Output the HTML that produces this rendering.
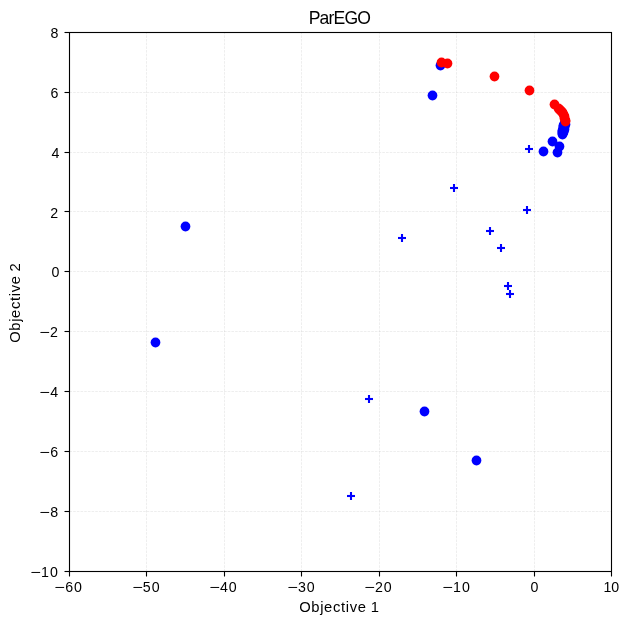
<!DOCTYPE html>
<html lang="en">
<head>
<meta charset="utf-8">
<title>ParEGO</title>
<style>
html,body{margin:0;padding:0;background:#fff;}
body{width:629px;height:624px;overflow:hidden;}
svg{display:block;will-change:transform;}
text{font-family:"Liberation Sans",sans-serif;fill:#000;}
.tick{font-size:14.2px;}
.lab{font-size:14.77px;}
.ttl{font-size:17.59px;}
.g{stroke:#b0b0b0;stroke-opacity:0.3;stroke-width:0.73;stroke-dasharray:2.57 1.11;fill:none;}
.t{stroke:#000;stroke-width:1.11;fill:none;}
.b{fill:#0000ff;}
.r{fill:#ff0000;}
</style>
</head>
<body>
<svg width="629" height="624" viewBox="0 0 629 624">
<rect x="0" y="0" width="629" height="624" fill="#ffffff"/>
<!-- grid -->
<g class="g">
<path d="M69.5 571.5 V32.5"/>
<path d="M146.5 571.5 V32.5"/>
<path d="M224.5 571.5 V32.5"/>
<path d="M301.5 571.5 V32.5"/>
<path d="M379.5 571.5 V32.5"/>
<path d="M456.5 571.5 V32.5"/>
<path d="M534.5 571.5 V32.5"/>
<path d="M611.5 571.5 V32.5"/>
<path d="M69.5 32.5 H611.5"/>
<path d="M69.5 92.5 H611.5"/>
<path d="M69.5 152.5 H611.5"/>
<path d="M69.5 211.5 H611.5"/>
<path d="M69.5 271.5 H611.5"/>
<path d="M69.5 331.5 H611.5"/>
<path d="M69.5 391.5 H611.5"/>
<path d="M69.5 451.5 H611.5"/>
<path d="M69.5 511.5 H611.5"/>
<path d="M69.5 571.5 H611.5"/>
</g>
<!-- plus markers -->
<g class="b">
<rect x="525" y="147.958" width="8" height="2.084"/><rect x="527.958" y="145" width="2.084" height="8"/>
<rect x="450" y="186.958" width="8" height="2.084"/><rect x="452.958" y="184" width="2.084" height="8"/>
<rect x="523" y="208.958" width="8" height="2.084"/><rect x="525.958" y="206" width="2.084" height="8"/>
<rect x="398" y="236.958" width="8" height="2.084"/><rect x="400.958" y="234" width="2.084" height="8"/>
<rect x="486" y="229.958" width="8" height="2.084"/><rect x="488.958" y="227" width="2.084" height="8"/>
<rect x="497" y="246.958" width="8" height="2.084"/><rect x="499.958" y="244" width="2.084" height="8"/>
<rect x="504" y="284.958" width="8" height="2.084"/><rect x="506.958" y="282" width="2.084" height="8"/>
<rect x="506" y="292.958" width="8" height="2.084"/><rect x="508.958" y="290" width="2.084" height="8"/>
<rect x="365" y="397.958" width="8" height="2.084"/><rect x="367.958" y="395" width="2.084" height="8"/>
<rect x="347" y="494.958" width="8" height="2.084"/><rect x="349.958" y="492" width="2.084" height="8"/>
</g>
<!-- blue points -->
<g class="b">
<circle cx="185.5" cy="226.5" r="4.88"/>
<circle cx="155.5" cy="342.5" r="4.88"/>
<circle cx="424.5" cy="411.5" r="4.88"/>
<circle cx="476.5" cy="460.5" r="4.88"/>
<circle cx="440.5" cy="65.5" r="4.88"/>
<circle cx="432.5" cy="95.5" r="4.88"/>
<circle cx="564.5" cy="123.5" r="4.88"/>
<circle cx="565.5" cy="124.5" r="4.88"/>
<circle cx="564.5" cy="125.5" r="4.88"/>
<circle cx="563.5" cy="125.5" r="4.88"/>
<circle cx="563.5" cy="126.5" r="4.88"/>
<circle cx="563.5" cy="127.5" r="4.88"/>
<circle cx="563.5" cy="128.5" r="4.88"/>
<circle cx="562.5" cy="130.5" r="4.88"/>
<circle cx="562.5" cy="131.5" r="4.88"/>
<circle cx="562.5" cy="132.5" r="4.88"/>
<circle cx="562.5" cy="133.5" r="4.88"/>
<circle cx="564.5" cy="127.5" r="4.88"/>
<circle cx="564.5" cy="129.5" r="4.88"/>
<circle cx="563.5" cy="131.5" r="4.88"/>
<circle cx="563.5" cy="132.5" r="4.88"/>
<circle cx="562.5" cy="134.5" r="4.88"/>
<circle cx="552.5" cy="141.5" r="4.88"/>
<circle cx="559.5" cy="146.5" r="4.88"/>
<circle cx="543.5" cy="151.5" r="4.88"/>
<circle cx="557.5" cy="152.5" r="4.88"/>
</g>
<!-- red points -->
<g class="r">
<circle cx="441.5" cy="62.5" r="4.88"/>
<circle cx="447.5" cy="63.5" r="4.88"/>
<circle cx="494.5" cy="76.5" r="4.88"/>
<circle cx="529.5" cy="90.5" r="4.88"/>
<circle cx="554.5" cy="104.5" r="4.88"/>
<circle cx="558.5" cy="108.5" r="4.88"/>
<circle cx="559.5" cy="109.5" r="4.88"/>
<circle cx="560.5" cy="110.5" r="4.88"/>
<circle cx="561.5" cy="111.5" r="4.88"/>
<circle cx="562.5" cy="112.5" r="4.88"/>
<circle cx="563.5" cy="114.5" r="4.88"/>
<circle cx="564.5" cy="116.5" r="4.88"/>
<circle cx="564.5" cy="118.5" r="4.88"/>
<circle cx="565.5" cy="120.5" r="4.88"/>
<circle cx="565.5" cy="121.5" r="4.88"/>
</g>
<!-- ticks -->
<g class="t">
<path d="M69.5 571.5 v5"/>
<path d="M146.5 571.5 v5"/>
<path d="M224.5 571.5 v5"/>
<path d="M301.5 571.5 v5"/>
<path d="M379.5 571.5 v5"/>
<path d="M456.5 571.5 v5"/>
<path d="M534.5 571.5 v5"/>
<path d="M611.5 571.5 v5"/>
<path d="M69.5 32.5 h-5"/>
<path d="M69.5 92.5 h-5"/>
<path d="M69.5 152.5 h-5"/>
<path d="M69.5 211.5 h-5"/>
<path d="M69.5 271.5 h-5"/>
<path d="M69.5 331.5 h-5"/>
<path d="M69.5 391.5 h-5"/>
<path d="M69.5 451.5 h-5"/>
<path d="M69.5 511.5 h-5"/>
<path d="M69.5 571.5 h-5"/>
</g>
<!-- spines -->
<rect class="t" x="69.5" y="32.5" width="542.0" height="539.0" stroke-linejoin="miter"/>
<!-- tick labels -->
<text class="tick" y="592"><tspan x="54.21" textLength="10.51" lengthAdjust="spacingAndGlyphs">−</tspan><tspan x="65.32" textLength="16.52" lengthAdjust="spacing">60</tspan></text>
<text class="tick" y="592"><tspan x="132.21" textLength="10.51" lengthAdjust="spacingAndGlyphs">−</tspan><tspan x="142.82" textLength="16.76" lengthAdjust="spacing">50</tspan></text>
<text class="tick" y="592"><tspan x="209.21" textLength="10.51" lengthAdjust="spacingAndGlyphs">−</tspan><tspan x="220.04" textLength="16.5" lengthAdjust="spacing">40</tspan></text>
<text class="tick" y="592"><tspan x="287.21" textLength="10.51" lengthAdjust="spacingAndGlyphs">−</tspan><tspan x="298.07" textLength="16.47" lengthAdjust="spacing">30</tspan></text>
<text class="tick" y="592"><tspan x="364.21" textLength="10.51" lengthAdjust="spacingAndGlyphs">−</tspan><tspan x="374.9" textLength="16.68" lengthAdjust="spacing">20</tspan></text>
<text class="tick" y="592"><tspan x="442.21" textLength="10.51" lengthAdjust="spacingAndGlyphs">−</tspan><tspan x="453.09" textLength="16.75" lengthAdjust="spacing">10</tspan></text>
<text class="tick" y="592"><tspan x="530.47">0</tspan></text>
<text class="tick" y="592"><tspan x="603.57" textLength="15.5" lengthAdjust="spacing">10</tspan></text>
<text class="tick" y="38"><tspan x="50.5">8</tspan></text>
<text class="tick" y="98"><tspan x="50.49">6</tspan></text>
<text class="tick" y="158"><tspan x="51.57">4</tspan></text>
<text class="tick" y="218"><tspan x="50.3">2</tspan></text>
<text class="tick" y="277"><tspan x="51.47">0</tspan></text>
<text class="tick" y="337"><tspan x="39.21" textLength="10.51" lengthAdjust="spacingAndGlyphs">−</tspan><tspan x="50.0">2</tspan></text>
<text class="tick" y="397"><tspan x="39.21" textLength="10.51" lengthAdjust="spacingAndGlyphs">−</tspan><tspan x="50.29">4</tspan></text>
<text class="tick" y="457"><tspan x="39.21" textLength="10.51" lengthAdjust="spacingAndGlyphs">−</tspan><tspan x="50.2">6</tspan></text>
<text class="tick" y="517"><tspan x="39.21" textLength="10.51" lengthAdjust="spacingAndGlyphs">−</tspan><tspan x="50.24">8</tspan></text>
<text class="tick" y="577"><tspan x="30.21" textLength="10.51" lengthAdjust="spacingAndGlyphs">−</tspan><tspan x="41.09" textLength="16.75" lengthAdjust="spacing">10</tspan></text>
<!-- axis labels and title -->
<text class="lab" y="612"><tspan x="299.22" textLength="66.66" lengthAdjust="spacing">Objective</tspan> <tspan x="370.81">1</tspan></text>
<text class="lab" y="0" transform="translate(20 0) rotate(-90)"><tspan x="-342.81" textLength="66.7" lengthAdjust="spacing">Objective</tspan> <tspan x="-271.55">2</tspan></text>
<text class="ttl" y="24"><tspan x="308.72" textLength="62.31" lengthAdjust="spacing">ParEGO</tspan></text>
</svg>
</body>
</html>
